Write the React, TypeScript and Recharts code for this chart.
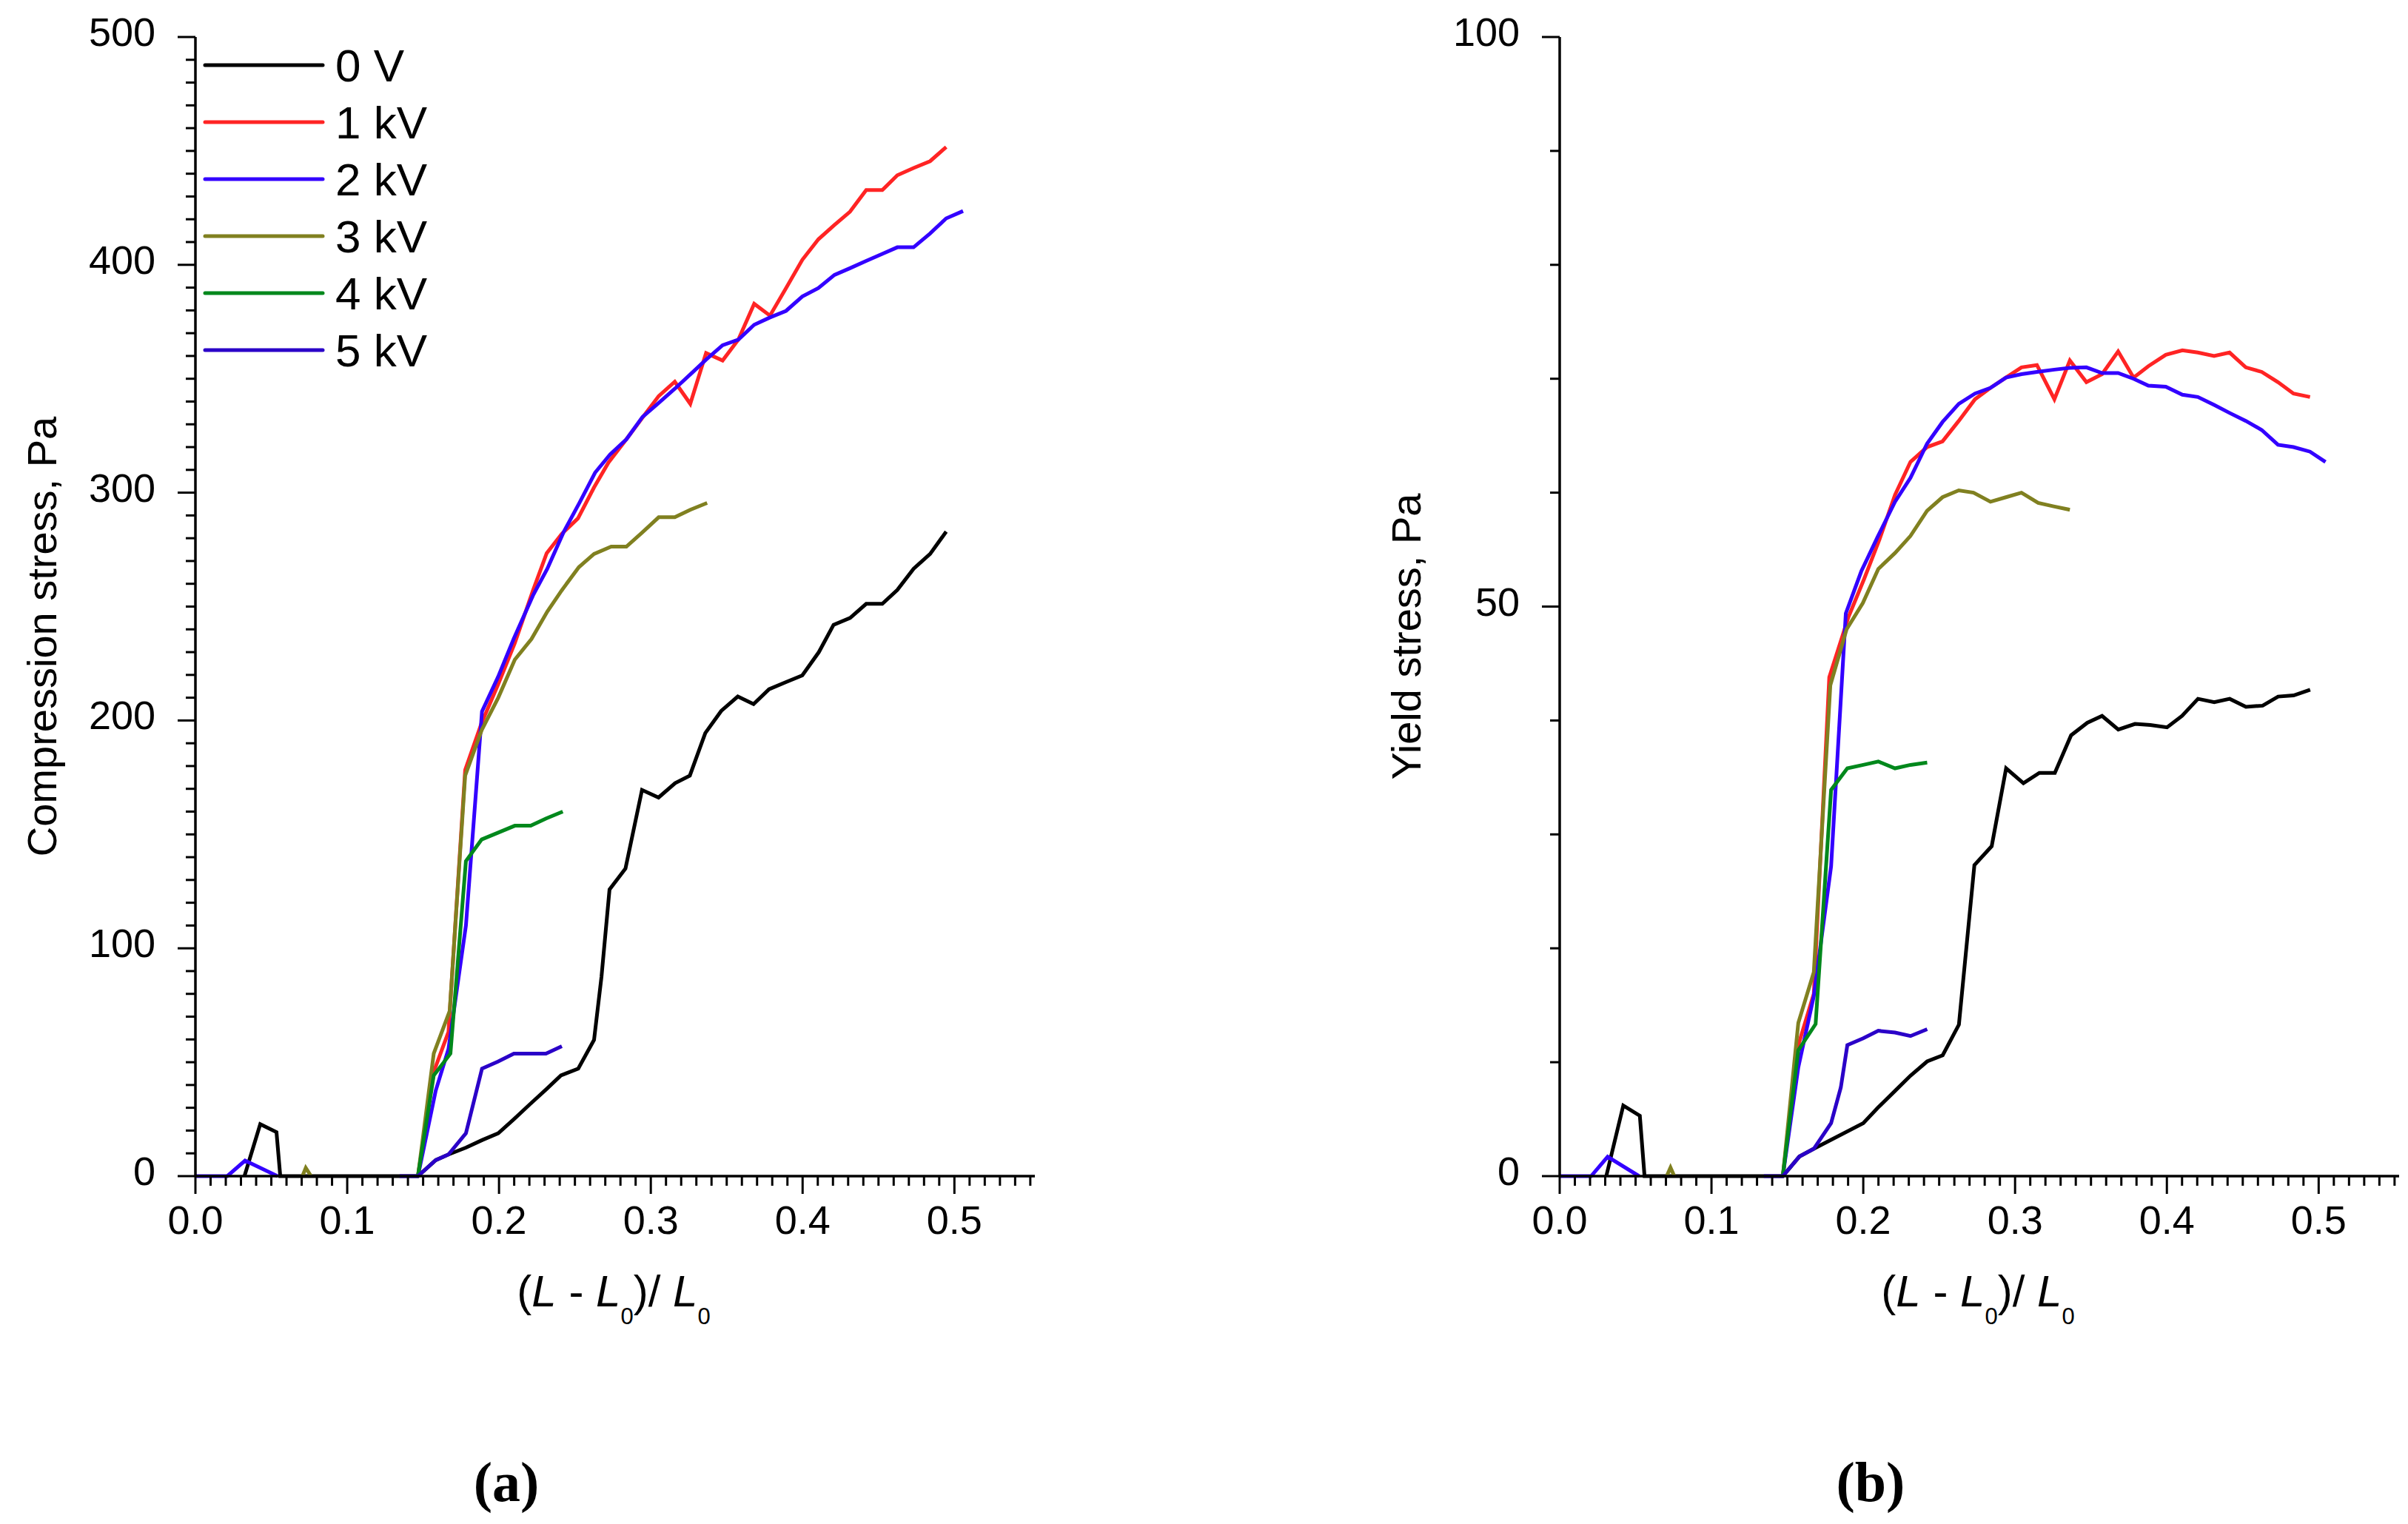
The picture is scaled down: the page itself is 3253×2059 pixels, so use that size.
import React from 'react';
import { LineChart, Line, XAxis, YAxis, Legend } from 'recharts';

const SANS = '"Liberation Sans", Arial, sans-serif';
const SERIF = '"Liberation Serif", "Times New Roman", serif';

const SERIES_NAMES = ['0 V', '1 kV', '2 kV', '3 kV', '4 kV', '5 kV'];
const SERIES_COLORS = ['#000000', '#ff2424', '#3300ff', '#808020', '#00881c', '#2a00c8'];

const X_MAJOR = [0, 0.1, 0.2, 0.3, 0.4, 0.5];
const X_MAJOR_LABELS = ['0.0', '0.1', '0.2', '0.3', '0.4', '0.5'];
const COMP_Y_MAJOR = [0, 100, 200, 300, 400, 500];
const YIELD_Y_MAJOR = [0, 50, 100];

// ---- (a) compression stress, Pa ----
const compX0 = [0.0323, 0.0427, 0.0534, 0.0559, 0.1466, 0.1583, 0.1667, 0.1782, 0.1888, 0.1995, 0.2098, 0.2203, 0.2309, 0.2408, 0.2522, 0.2626, 0.2675, 0.2728, 0.2833, 0.2942, 0.3051, 0.316, 0.3257, 0.3359, 0.3464, 0.3573, 0.3677, 0.3779, 0.3888, 0.3998, 0.4107, 0.4204, 0.4313, 0.4419, 0.4525, 0.4624, 0.4731, 0.484, 0.4946];
const compY0 = [0, 22.8, 19.3, 0, 0, 7, 9.5, 12.5, 15.8, 18.8, 25, 31.5, 38, 44.2, 47.2, 59.8, 87.5, 125.8, 135, 169.5, 166.2, 172.5, 175.8, 194.5, 204.2, 210.5, 207.2, 213.7, 216.8, 219.8, 230, 242, 245, 251.2, 251.2, 257.3, 266.6, 273.1, 282.9];

const compX1 = [0.1466, 0.157, 0.1667, 0.1777, 0.1886, 0.1995, 0.2104, 0.2224, 0.2314, 0.2413, 0.252, 0.2626, 0.2721, 0.2839, 0.2945, 0.3052, 0.3158, 0.326, 0.3364, 0.3473, 0.3577, 0.3681, 0.3785, 0.3891, 0.3998, 0.4104, 0.421, 0.4312, 0.4419, 0.4525, 0.4624, 0.4731, 0.484, 0.4946];
const compY1 = [0, 45.8, 63.3, 178.3, 199, 216, 234, 257.1, 273.4, 281.9, 288.7, 302.3, 313.2, 323.4, 332.9, 342.4, 348.7, 339, 361.3, 358, 367.2, 382.9, 377.7, 389.8, 402.2, 411.2, 417.5, 423.3, 432.8, 432.8, 439.3, 442.5, 445.5, 451.7];

const compX2 = [0, 0.021, 0.0327, 0.0541, 0.1, 0.1466, 0.1583, 0.1667, 0.1782, 0.1888, 0.1993, 0.2098, 0.2224, 0.2318, 0.2425, 0.2531, 0.2633, 0.2732, 0.2839, 0.2945, 0.3052, 0.3158, 0.326, 0.3364, 0.3473, 0.3577, 0.3681, 0.3785, 0.3891, 0.3998, 0.4104, 0.421, 0.4312, 0.4419, 0.4525, 0.4624, 0.4731, 0.484, 0.4946, 0.5057];
const compY2 = [0, 0, 6.8, 0, null, 0, 37.5, 55.8, 110, 204, 219, 236, 254.9, 266.6, 282.6, 295.7, 308.8, 316.8, 323.4, 333.2, 339.4, 345.6, 351.9, 358.4, 364.7, 367.2, 373.7, 376.9, 379.8, 386.1, 389.8, 395.6, 398.5, 401.7, 404.8, 407.7, 407.7, 413.8, 420.4, 423.6];

const compX3 = [0.0705, 0.0727, 0.0762, 0.11, 0.1466, 0.157, 0.1675, 0.1777, 0.1886, 0.1995, 0.2104, 0.2214, 0.2318, 0.2413, 0.2526, 0.2626, 0.2739, 0.2839, 0.2945, 0.3052, 0.3158, 0.326, 0.3371];
const compY3 = [0, 3.6, 0, null, 0, 53.8, 72.5, 175.8, 195.8, 210, 226.7, 235.8, 247.8, 257.1, 267.3, 273.1, 276.3, 276.3, 282.6, 289.2, 289.2, 292.5, 295.5];

const compX4 = [0.1466, 0.157, 0.168, 0.1782, 0.1886, 0.1995, 0.2104, 0.2209, 0.2311, 0.242];
const compY4 = [0, 44.2, 53.8, 138.3, 147.8, 150.8, 153.8, 153.8, 157, 160];

const compX5 = [0.1345, 0.1466, 0.1583, 0.1667, 0.1782, 0.1888, 0.1993, 0.2098, 0.2203, 0.2309, 0.2414];
const compY5 = [0, 0, 7, 9.5, 18.8, 47.2, 50.3, 53.8, 53.8, 53.8, 57];

// ---- (b) yield stress, Pa ----
const yieldX0 = [0.0307, 0.0419, 0.0528, 0.0559, 0.147, 0.1579, 0.1674, 0.2, 0.2094, 0.2209, 0.2311, 0.2421, 0.2523, 0.263, 0.2732, 0.2846, 0.2941, 0.3055, 0.316, 0.3262, 0.3369, 0.3476, 0.3573, 0.368, 0.379, 0.3891, 0.4001, 0.41, 0.4205, 0.4312, 0.4414, 0.4521, 0.4631, 0.4733, 0.4835, 0.4944];
const yieldY0 = [0, 6.2, 5.3, 0, 0, 1.72, 2.4, 4.65, 5.98, 7.48, 8.82, 10.07, 10.61, 13.3, 27.3, 28.96, 35.8, 34.5, 35.4, 35.4, 38.7, 39.8, 40.4, 39.2, 39.7, 39.6, 39.4, 40.4, 41.9, 41.6, 41.9, 41.2, 41.3, 42.1, 42.2, 42.7];

const yieldX1 = [0.147, 0.1572, 0.1674, 0.1776, 0.1903, 0.2005, 0.2107, 0.2209, 0.2311, 0.242, 0.2522, 0.2629, 0.2736, 0.2838, 0.294, 0.3042, 0.3144, 0.3259, 0.3361, 0.347, 0.3573, 0.3679, 0.3781, 0.3878, 0.3993, 0.4102, 0.4204, 0.4311, 0.4413, 0.452, 0.4625, 0.4732, 0.4834, 0.4943];
const yieldY1 = [0, 11.5, 16, 43.8, 49.1, 52.4, 55.9, 59.8, 62.7, 64, 64.5, 66.3, 68.2, 69.2, 70.1, 71, 71.2, 68.2, 71.6, 69.7, 70.4, 72.4, 70.1, 71.1, 72.1, 72.5, 72.3, 72, 72.3, 71, 70.6, 69.7, 68.7, 68.4];

const yieldX2 = [0, 0.0207, 0.0316, 0.0523, 0.1, 0.147, 0.1572, 0.1674, 0.1788, 0.1885, 0.1987, 0.2094, 0.2209, 0.2311, 0.242, 0.2522, 0.2629, 0.2736, 0.2838, 0.294, 0.3042, 0.3144, 0.3259, 0.3361, 0.347, 0.3573, 0.3679, 0.3781, 0.3878, 0.3993, 0.4102, 0.4204, 0.4311, 0.4413, 0.452, 0.4625, 0.4732, 0.4834, 0.4943, 0.5045];
const yieldY2 = [0, 0, 1.7, 0, null, 0, 9.56, 15.8, 27.2, 49.4, 53.1, 56.1, 59.2, 61.3, 64.3, 66.2, 67.8, 68.7, 69.2, 70.1, 70.4, 70.6, 70.8, 70.95, 71, 70.5, 70.5, 70, 69.4, 69.3, 68.6, 68.4, 67.7, 67, 66.3, 65.5, 64.2, 64, 63.6, 62.7];

const yieldX3 = [0.0705, 0.073, 0.0755, 0.11, 0.147, 0.1572, 0.1674, 0.1783, 0.189, 0.1997, 0.2099, 0.2209, 0.2311, 0.242, 0.2522, 0.2629, 0.2726, 0.2838, 0.294, 0.3042, 0.3152, 0.3254, 0.3361];
const yieldY3 = [0, 0.75, 0, null, 0, 13.45, 17.9, 43.1, 48, 50.3, 53.3, 54.7, 56.2, 58.4, 59.6, 60.2, 60, 59.2, 59.6, 60, 59.1, 58.8, 58.5];

const yieldX4 = [0.147, 0.1572, 0.1686, 0.1788, 0.1895, 0.2, 0.2099, 0.2209, 0.2311, 0.2421];
const yieldY4 = [0, 11.06, 13.35, 33.9, 35.8, 36.1, 36.4, 35.8, 36.1, 36.3];

const yieldX5 = [0.1345, 0.147, 0.1579, 0.1674, 0.1788, 0.1852, 0.1895, 0.2, 0.2099, 0.2209, 0.2311, 0.2421];
const yieldY5 = [0, 0, 1.72, 2.4, 4.65, 7.78, 11.5, 12.1, 12.76, 12.6, 12.3, 12.9];

const zip = (xs: number[], ys: (number | null)[]) => xs.map((x, i) => ({ x, y: ys[i] }));

const compSeries = [
  zip(compX0, compY0), zip(compX1, compY1), zip(compX2, compY2),
  zip(compX3, compY3), zip(compX4, compY4), zip(compX5, compY5),
];
const yieldSeries = [
  zip(yieldX0, yieldY0), zip(yieldX1, yieldY1), zip(yieldX2, yieldY2),
  zip(yieldX3, yieldY3), zip(yieldX4, yieldY4), zip(yieldX5, yieldY5),
];

// minor ticks every 0.01 on x, every 10 on y
const stepTicks = (max: number, step: number, scale = 1) => {
  const out: number[] = [];
  for (let i = 0; i * step <= max + 1e-9; i++) out.push((i * step) / scale);
  return out;
};
const xTicks = stepTicks(55, 1, 100);

const TICK_FONT = 54;
const LINE_W = 5;

function XTick(props: any) {
  const { x, y, payload } = props;
  const idx = X_MAJOR.findIndex((m) => Math.abs(m - payload.value) < 1e-6);
  const major = idx >= 0;
  return (
    <g>
      <line x1={x} x2={x} y1={y} y2={y + (major ? 24 : 13)} stroke="#000" strokeWidth={3} />
      {major && (
        <text x={x} y={y + 78} textAnchor="middle" fontSize={TICK_FONT} fontFamily={SANS} fill="#000">
          {X_MAJOR_LABELS[idx]}
        </text>
      )}
    </g>
  );
}

const makeYTick = (majors: number[]) => (props: any) => {
  const { x, y, payload } = props;
  const major = majors.includes(payload.value);
  return (
    <g>
      <line x1={x - (major ? 24 : 13)} x2={x} y1={y} y2={y} stroke="#000" strokeWidth={3} />
      {major && (
        <text x={x - 54} y={y + 12} textAnchor="end" fontSize={TICK_FONT} fontFamily={SANS} fill="#000">
          {payload.value}
        </text>
      )}
    </g>
  );
};

function LegendBox() {
  return (
    <svg width={330} height={470} style={{ display: 'block' }}>
      {SERIES_NAMES.map((name, i) => {
        const cy = 38 + i * 77;
        return (
          <g key={name}>
            <line x1={7} x2={166} y1={cy} y2={cy} stroke={SERIES_COLORS[i]} strokeWidth={LINE_W} strokeLinecap="round" />
            <text x={183} y={cy + 22} fontSize={62} fontFamily={SANS} fill="#000">{name}</text>
          </g>
        );
      })}
    </svg>
  );
}

function XTitle() {
  return (
    <g>
      <text x={829} y={1765} textAnchor="middle" fontSize={60} fontFamily={SANS} fill="#000">
        (<tspan fontStyle="italic">L</tspan> - <tspan fontStyle="italic">L</tspan>
        <tspan fontSize={31} dy={24}>0</tspan>
        <tspan dy={-24}>)/ </tspan>
        <tspan fontStyle="italic">L</tspan>
        <tspan fontSize={31} dy={24}>0</tspan>
      </text>
    </g>
  );
}

function Panel({ series, yMax, yMajor, yTitle, letter, left, showLegend }: any) {
  const yTicks = stepTicks(yMax, 10);
  const YTick = makeYTick(yMajor);
  return (
    <div style={{ position: 'absolute', left, top: 0 }}>
      <LineChart width={1420} height={2059} margin={{ top: 50, right: 22, bottom: 0, left: 0 }}>
        <XAxis
          dataKey="x"
          type="number"
          domain={[0, 0.553]}
          allowDataOverflow
          ticks={xTicks}
          interval={0}
          tickSize={0}
          tickMargin={0}
          tickLine={false}
          tick={(p: any) => <XTick {...p} />}
          axisLine={{ stroke: '#000', strokeWidth: 3.5 }}
          height={470}
          label={() => (
            <g>
              <XTitle />
              <text x={684} y={2028} textAnchor="middle" fontSize={76} fontWeight="bold" fontFamily={SERIF} fill="#000">
                {letter}
              </text>
            </g>
          )}
        />
        <YAxis
          type="number"
          domain={[0, yMax]}
          ticks={yTicks}
          interval={0}
          width={264}
          tickSize={0}
          tickMargin={0}
          tickLine={false}
          tick={(p: any) => <YTick {...p} />}
          axisLine={{ stroke: '#000', strokeWidth: 3.5 }}
          label={() => (
            <text
              x={56}
              y={860}
              transform="rotate(-90, 56, 860)"
              textAnchor="middle"
              dominantBaseline="central"
              fontSize={56}
              fontFamily={SANS}
              fill="#000"
            >
              {yTitle}
            </text>
          )}
        />
        {showLegend && (
          <Legend
            layout="vertical"
            align="center"
            verticalAlign="middle"
            content={() => <LegendBox />}
            wrapperStyle={{ left: 270, top: 50, width: 330, height: 470 }}
          />
        )}
        {series.map((data: any[], i: number) => (
          <Line
            key={SERIES_NAMES[i]}
            name={SERIES_NAMES[i]}
            data={data}
            dataKey="y"
            type="linear"
            stroke={SERIES_COLORS[i]}
            strokeWidth={LINE_W}
            dot={false}
            activeDot={false}
            connectNulls={false}
            isAnimationActive={false}
          />
        ))}
      </LineChart>
    </div>
  );
}

export default function App() {
  return (
    <div style={{ position: 'absolute', left: 0, top: 0, width: 3253, height: 2059, background: '#fff', overflow: 'hidden' }}>
      <Panel series={compSeries} yMax={500} yMajor={COMP_Y_MAJOR} yTitle="Compression stress, Pa" letter="(a)" left={0} showLegend />
      <Panel series={yieldSeries} yMax={100} yMajor={YIELD_Y_MAJOR} yTitle="Yield stress, Pa" letter="(b)" left={1843} />
    </div>
  );
}
